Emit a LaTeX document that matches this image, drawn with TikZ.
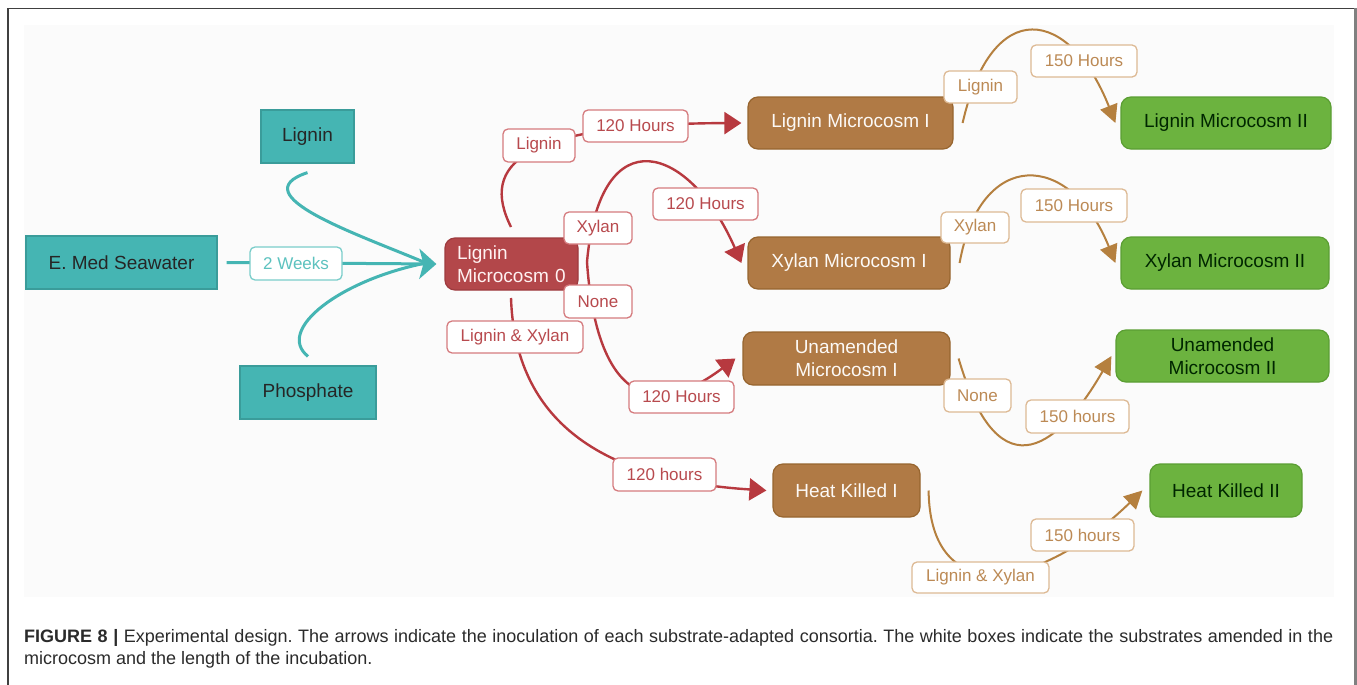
\documentclass[tikz,border=0pt]{standalone}
\usepackage{fontspec}
\setmainfont{Liberation Sans}
\usetikzlibrary{arrows.meta}
\definecolor{teal1}{HTML}{45B5B3}
\definecolor{teal2}{HTML}{3A9C9A}
\definecolor{teallab}{HTML}{7ACDCA}
\definecolor{tealtxt}{HTML}{5CC2BF}
\definecolor{red1}{HTML}{B3474A}
\definecolor{red2}{HTML}{9E3B3F}
\definecolor{redline}{HTML}{B7393F}
\definecolor{redlab}{HTML}{D57B7E}
\definecolor{redtxt}{HTML}{B84A4E}
\definecolor{brown1}{HTML}{B07A45}
\definecolor{brown2}{HTML}{97652F}
\definecolor{tanline}{HTML}{B5803F}
\definecolor{tanlab}{HTML}{DDBA95}
\definecolor{tantxt}{HTML}{BC8A55}
\definecolor{green1}{HTML}{6CB33F}
\definecolor{green2}{HTML}{5B9E33}
\definecolor{captxt}{HTML}{2B2B2B}
\begin{document}
\begin{tikzpicture}[x=1pt,y=-1pt,
  base/.style={inner sep=0pt, align=center, font=\fontsize{19}{23}\selectfont},
  tealbox/.style={base, fill=teal1, draw=teal2, line width=1.2pt, text=black!85},
  redbox/.style={base, fill=red1, draw=red2, line width=1.2pt, rounded corners=10pt, text=white!95!red},
  brownbox/.style={base, fill=brown1, draw=brown2, line width=1.2pt, rounded corners=10pt, text=white!95!brown},
  greenbox/.style={base, fill=green1, draw=green2, line width=1.2pt, rounded corners=10pt, text=black!85!green},
  lab/.style={base, font=\fontsize{17}{20}\selectfont, fill=white, line width=1.3pt, rounded corners=5pt, minimum height=32pt},
  teallabel/.style={lab, draw=teallab, text=tealtxt},
  redlabel/.style={lab, draw=redlab, text=redtxt},
  tanlabel/.style={lab, draw=tanlab, text=tantxt},
  tealconn/.style={draw=teal1, line width=3pt},
  redconn/.style={draw=redline, line width=2.4pt, -{Triangle[length=17pt,width=22pt]}},
  tanconn/.style={draw=tanline, line width=2pt, -{Triangle[length=18pt,width=18pt]}},
]
\useasboundingbox (0,0) rectangle (1357,685);
\fill[white] (0,0) rectangle (1357,685);
\fill[black!1.5] (24,25) rectangle (1334,597);
\draw[black!75, line width=1.4pt] (8,685) -- (8,8.7) -- (1355,8.7);
\draw[black!50, line width=2.6pt] (1355.7,8) -- (1355.7,685);

% teal nodes
\node[tealbox, minimum width=93pt, minimum height=53pt] (tLig) at (307.5,136.5) {Lignin};
\node[tealbox, minimum width=191pt, minimum height=53pt] (tSea) at (121.5,262.5) {E. Med Seawater};
\node[tealbox, minimum width=136pt, minimum height=53pt] (tPho) at (308,392.5) {Phosphate};

% microcosm 0
\node[redbox, minimum width=133pt, minimum height=52pt, text width=109pt, align=left] (m0) at (511.5,264) {Lignin\\Microcosm 0};

% level I
\node[brownbox, minimum width=205pt, minimum height=52pt] (bLig) at (850.5,123) {Lignin Microcosm I};
\node[brownbox, minimum width=202pt, minimum height=52pt] (bXyl) at (849,263) {Xylan Microcosm I};
\node[brownbox, minimum width=207pt, minimum height=53pt] (bUna) at (846.5,358.5) {Unamended\\Microcosm I};
\node[brownbox, minimum width=147pt, minimum height=53pt] (bHK) at (846.5,490.5) {Heat Killed I};

% level II
\node[greenbox, minimum width=210pt, minimum height=52pt] (gLig) at (1226,123) {Lignin Microcosm II};
\node[greenbox, minimum width=208pt, minimum height=52pt] (gXyl) at (1225,263) {Xylan Microcosm II};
\node[greenbox, minimum width=213pt, minimum height=52pt] (gUna) at (1222.5,356) {Unamended\\Microcosm II};
\node[greenbox, minimum width=152pt, minimum height=53pt] (gHK) at (1226,490.5) {Heat Killed II};

% connector start points
\coordinate (tjoin) at (426,263);
\coordinate (m0top) at (511,227);
\coordinate (m0right) at (587,262);
\coordinate (m0bot) at (511,298);

% teal connectors
\draw[tealconn, -{Stealth[length=17pt,width=30pt,inset=4pt]}] ([xshift=9pt]tSea.east) -- ([xshift=-8pt]m0.west);
\draw[tealconn] ([yshift=-9pt]tLig.south) .. controls (240,195) and (360,235) .. (tjoin);
\draw[tealconn] ([yshift=9pt]tPho.north) .. controls (275,330) and (340,280) .. (tjoin);

% red connectors
\draw[redconn] (m0top) .. controls (480,165) and (520,124) .. ([xshift=-6pt]bLig.west);
\draw[redconn] (m0right) .. controls (600,115) and (690,145) .. ([xshift=-6pt]bXyl.west);
\draw[redconn] (m0right) .. controls (595,380) and (640,430) .. ([xshift=-7pt]bUna.west);
\draw[redconn] (m0bot) .. controls (515,420) and (600,480) .. ([xshift=-6pt]bHK.west);

% tan connectors
\draw[tanconn] ([xshift=9pt]bLig.east) .. controls (992,-6) and (1070,8) .. ([xshift=-5pt]gLig.west);
\draw[tanconn] ([xshift=9pt]bXyl.east) .. controls (980,148) and (1070,150) .. ([xshift=-5pt]gXyl.west);
\draw[tanconn] ([xshift=8pt]bUna.east) .. controls (1000,500) and (1062,442) .. ([xshift=-4pt]gUna.west);
\draw[tanconn] ([xshift=8pt]bHK.east) .. controls (930,610) and (1040,590) .. ([xshift=-7pt]gHK.west);

% labels
\node[teallabel, minimum width=92pt, minimum height=33pt] (lWeeks) at (296,263.5) {2 Weeks};

\node[redlabel, minimum width=72pt, minimum height=33pt] (lLig1) at (539,145.5) {Lignin};
\node[redlabel, minimum width=105pt] (l120a) at (635.5,126) {120 Hours};
\node[redlabel, minimum width=68pt] (lXyl1) at (598,228) {Xylan};
\node[redlabel, minimum width=105pt] (l120b) at (705.5,204) {120 Hours};
\node[redlabel, minimum width=68pt, minimum height=33pt] (lNone1) at (598,301.5) {None};
\node[redlabel, minimum width=105pt] (l120c) at (681.5,397) {120 Hours};
\node[redlabel, minimum width=136pt] (lLX1) at (515,337) {Lignin \& Xylan};
\node[redlabel, minimum width=103pt, minimum height=33pt] (l120d) at (664.5,474.5) {120 hours};

\node[tanlabel, minimum width=73pt] (tlLig) at (980.5,87) {Lignin};
\node[tanlabel, minimum width=106pt] (tl150a) at (1084,61) {150 Hours};
\node[tanlabel, minimum width=68pt, minimum height=31pt] (tlXyl) at (975,227.5) {Xylan};
\node[tanlabel, minimum width=106pt, minimum height=33pt] (tl150b) at (1074,205.5) {150 Hours};
\node[tanlabel, minimum width=67pt, minimum height=33pt] (tlNone) at (977.5,395.5) {None};
\node[tanlabel, minimum width=103pt, minimum height=33pt] (tl150c) at (1077.5,416.5) {150 hours};
\node[tanlabel, minimum width=137pt, minimum height=31pt] (tlLX) at (980.5,577.5) {Lignin \& Xylan};
\node[tanlabel, minimum width=103pt] (tl150d) at (1082.5,535) {150 hours};

% caption
\node[anchor=north west, inner sep=0pt, text=captxt, text width=1309pt, align=justify, font=\fontsize{18}{22.5}\selectfont\frenchspacing] (cap) at (24,629) {\textbf{FIGURE 8 |} Experimental design. The arrows indicate the inoculation of each substrate-adapted consortia. The white boxes indicate the substrates amended in the\linebreak microcosm and the length of the incubation.};
\end{tikzpicture}
\end{document}
